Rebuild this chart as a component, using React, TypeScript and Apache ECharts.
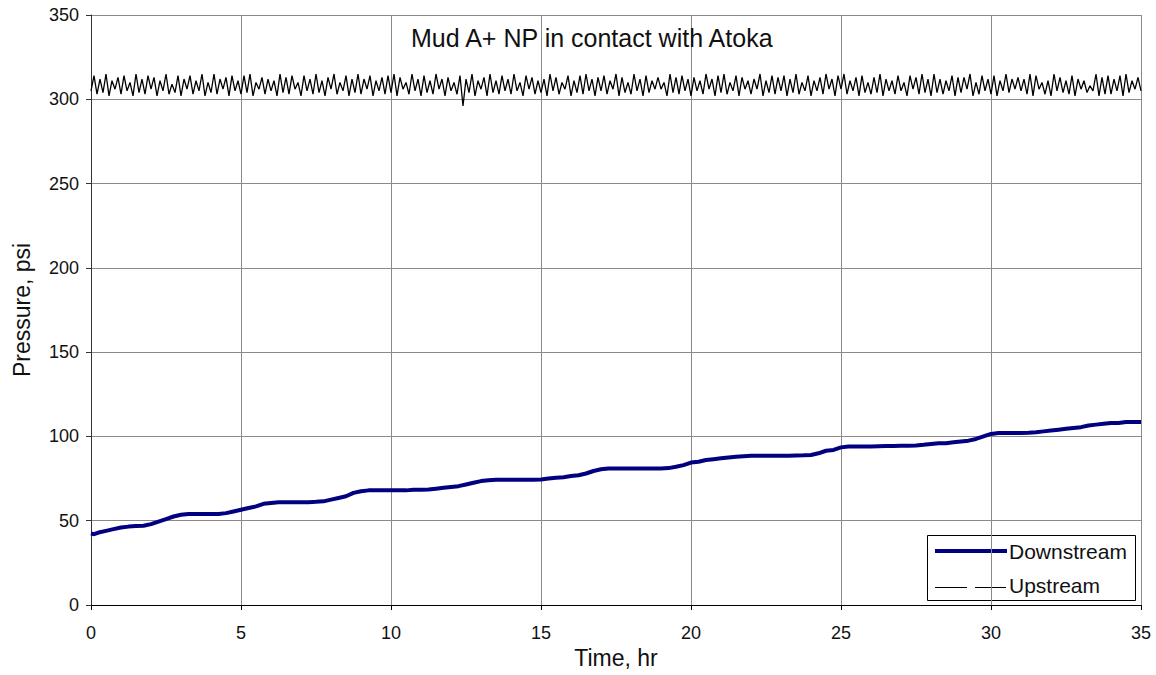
import React, { useEffect, useRef } from "react";
import * as echarts from "echarts";

const TITLE = "Mud A+ NP in contact with Atoka";
const X_NAME = "Time, hr";
const Y_NAME = "Pressure, psi";
const SERIES_NAMES = ["Downstream", "Upstream"];

// Downstream pressure [time hr, psi]
const downstream: [number, number][] = [
  [0, 42.5], [0.1, 42], [0.25, 43], [0.5, 44], [0.75, 45], [1.0, 46], [1.25, 46.5], [1.5, 46.8], [1.75, 47],
  [2.0, 48], [2.25, 49.5], [2.5, 51], [2.75, 52.5], [3.0, 53.5], [3.25, 54], [3.5, 54], [3.75, 54], [4.0, 54],
  [4.25, 54], [4.5, 54.5], [4.75, 55.5], [5.0, 56.5], [5.25, 57.5], [5.5, 58.5], [5.75, 60], [6.0, 60.5],
  [6.25, 61], [6.5, 61], [6.75, 61], [7.0, 61], [7.25, 61], [7.5, 61.2], [7.75, 61.5], [8.0, 62.5], [8.25, 63.5],
  [8.5, 64.5], [8.75, 66.5], [9.0, 67.5], [9.25, 68], [9.5, 68], [9.75, 68], [10.0, 68], [10.25, 68], [10.5, 68],
  [10.75, 68.3], [11.0, 68.3], [11.25, 68.5], [11.5, 69], [11.75, 69.5], [12.0, 70], [12.25, 70.5], [12.5, 71.5],
  [12.75, 72.5], [13.0, 73.5], [13.25, 74], [13.5, 74.3], [13.75, 74.3], [14.0, 74.3], [14.25, 74.3], [14.5, 74.3],
  [14.75, 74.3], [15.0, 74.5], [15.25, 75], [15.5, 75.5], [15.75, 75.8], [16.0, 76.5], [16.25, 77], [16.5, 78],
  [16.75, 79.5], [17.0, 80.5], [17.25, 81], [17.5, 81], [17.75, 81], [18.0, 81], [18.25, 81], [18.5, 81], [18.75, 81],
  [19.0, 81], [19.25, 81.2], [19.5, 82], [19.75, 83], [20.0, 84.5], [20.25, 85], [20.5, 86], [20.75, 86.5],
  [21.0, 87], [21.25, 87.5], [21.5, 88], [21.75, 88.3], [22.0, 88.5], [22.25, 88.5], [22.5, 88.5], [22.75, 88.5],
  [23.0, 88.5], [23.25, 88.6], [23.5, 88.7], [23.75, 88.8], [24.0, 89], [24.25, 90], [24.5, 91.5], [24.75, 92],
  [25.0, 93.5], [25.25, 94], [25.5, 94], [25.75, 94], [26.0, 94], [26.25, 94.2], [26.5, 94.3], [26.75, 94.3],
  [27.0, 94.4], [27.25, 94.5], [27.5, 94.6], [27.75, 95], [28.0, 95.5], [28.25, 96], [28.5, 96], [28.75, 96.5],
  [29.0, 97], [29.25, 97.5], [29.5, 98.5], [29.75, 100], [30.0, 101.5], [30.25, 102], [30.5, 102], [30.75, 102],
  [31.0, 102], [31.25, 102.2], [31.5, 102.5], [31.75, 103], [32.0, 103.5], [32.25, 104], [32.5, 104.5],
  [32.75, 105], [33.0, 105.5], [33.25, 106.5], [33.5, 107], [33.75, 107.5], [34.0, 108], [34.25, 108],
  [34.5, 108.5], [34.75, 108.5], [35.0, 108.5],
];

// Upstream pressure, one reading every 0.1 hr
const UP_STEP = 0.1;
const upstream: number[] = [
  305, 314, 303, 312, 304, 315, 302, 311, 306, 313,
  303, 314, 305, 310, 302, 315, 304, 312, 303, 314,
  306, 313, 302, 311, 305, 315, 303, 309, 304, 314,
  302, 312, 306, 314, 303, 311, 305, 315, 302, 310,
  304, 315, 303, 312, 306, 313, 302, 314, 305, 311,
  303, 314, 304, 315, 302, 310, 306, 313, 303, 312,
  305, 311, 302, 315, 304, 313, 303, 314, 306, 310,
  302, 314, 305, 312, 303, 315, 304, 311, 302, 313,
  306, 315, 303, 310, 305, 314, 302, 312, 304, 315,
  303, 312, 306, 314, 302, 311, 305, 313, 303, 314,
  304, 315, 302, 313, 306, 310, 303, 315, 305, 312,
  302, 314, 304, 311, 303, 315, 306, 312, 302, 313,
  305, 310, 303, 314, 296, 312, 304, 315, 302, 311,
  306, 313, 302, 315, 304, 311, 303, 314, 305, 312,
  303, 315, 305, 310, 302, 314, 306, 313, 303, 311,
  304, 312, 302, 315, 305, 313, 303, 310, 306, 314,
  302, 311, 304, 314, 303, 315, 305, 312, 302, 313,
  305, 314, 303, 311, 306, 315, 302, 313, 304, 310,
  303, 315, 305, 312, 302, 314, 304, 311, 306, 313,
  306, 310, 302, 315, 304, 313, 303, 314, 305, 312,
  302, 313, 305, 311, 303, 315, 306, 312, 302, 314,
  304, 315, 303, 310, 305, 314, 302, 313, 306, 311,
  303, 312, 306, 315, 302, 311, 304, 314, 303, 313,
  305, 314, 302, 312, 304, 315, 303, 310, 305, 314,
  302, 311, 305, 313, 303, 315, 306, 312, 302, 314,
  306, 315, 303, 311, 305, 313, 302, 314, 304, 310,
  303, 313, 304, 315, 302, 312, 305, 311, 303, 314,
  305, 310, 302, 314, 306, 313, 303, 315, 304, 312,
  302, 315, 304, 312, 303, 311, 305, 314, 302, 313,
  304, 313, 306, 315, 302, 310, 303, 314, 305, 312,
  303, 314, 302, 311, 305, 315, 304, 312, 306, 313,
  305, 312, 303, 315, 302, 314, 306, 310, 303, 311,
  302, 315, 305, 313, 304, 311, 303, 314, 302, 312,
  306, 311, 304, 308, 305, 315, 302, 313, 303, 314,
  303, 312, 305, 314, 302, 315, 304, 311, 306, 313,
  305,
];

const X_MIN = 0, X_MAX = 35, X_INT = 5;
const Y_MIN = 0, Y_MAX = 350, Y_INT = 50;

const FONT = "Liberation Sans, Arial, sans-serif";

export default function App() {
  const ref = useRef<HTMLDivElement>(null);
  useEffect(() => {
    if (!ref.current) return;
    const chart = echarts.init(ref.current, null, { renderer: "svg" });
    const upData = upstream.map((v, i) => [+(i * UP_STEP).toFixed(2), v]);
    chart.setOption({
      animation: false,
      backgroundColor: "#ffffff",
      textStyle: { fontFamily: FONT },
      title: {
        text: TITLE,
        left: 406,
        top: 20,
        textStyle: { fontFamily: FONT, fontSize: 25, fontWeight: "normal", color: "#111" },
      },
      grid: { left: 91, top: 15, right: 15, bottom: 70, containLabel: false },
      xAxis: {
        type: "value",
        min: X_MIN,
        max: X_MAX,
        interval: X_INT,
        name: X_NAME,
        nameLocation: "middle",
        nameGap: 37,
        nameTextStyle: { fontFamily: FONT, fontSize: 23, color: "#111" },
        axisLine: { show: true, lineStyle: { color: "#000", width: 1 } },
        axisTick: { show: true, length: 5, lineStyle: { color: "#000" } },
        axisLabel: { fontFamily: FONT, fontSize: 18, color: "#111", margin: 19 },
        splitLine: { show: true, lineStyle: { color: "#8a8a8a", width: 1 } },
      },
      yAxis: {
        type: "value",
        min: Y_MIN,
        max: Y_MAX,
        interval: Y_INT,
        name: Y_NAME,
        nameLocation: "middle",
        nameGap: 58,
        nameTextStyle: { fontFamily: FONT, fontSize: 23, color: "#111" },
        axisLine: { show: true, lineStyle: { color: "#333", width: 1 } },
        axisTick: { show: true, length: 5, lineStyle: { color: "#333" } },
        axisLabel: { fontFamily: FONT, fontSize: 18, color: "#111", margin: 12 },
        splitLine: { show: true, lineStyle: { color: "#8a8a8a", width: 1 } },
      },
      series: [
        {
          name: SERIES_NAMES[0],
          type: "line",
          data: downstream,
          showSymbol: false,
          symbol: "none",
          lineStyle: { color: "#000080", width: 4 },
          z: 3,
        },
        {
          name: SERIES_NAMES[1],
          type: "line",
          data: upData,
          showSymbol: false,
          symbol: "none",
          lineStyle: { color: "#000", width: 1.3 },
          z: 2,
        },
      ],
      graphic: [
        {
          type: "group",
          z: 100,
          children: [
            {
              type: "rect",
              shape: { x: 927.5, y: 535.5, width: 208, height: 65 },
              style: { fill: "#fff", stroke: "#000", lineWidth: 1 },
            },
            {
              type: "line",
              shape: { x1: 935, y1: 551, x2: 1007, y2: 551 },
              style: { stroke: "#000080", lineWidth: 4 },
            },
            {
              type: "text",
              x: 1009,
              y: 551,
              style: { text: SERIES_NAMES[0], fontFamily: FONT, fontSize: 21, fill: "#111", verticalAlign: "middle" },
            },
            {
              type: "line",
              shape: { x1: 935, y1: 587.5, x2: 967, y2: 587.5 },
              style: { stroke: "#000", lineWidth: 1 },
            },
            {
              type: "line",
              shape: { x1: 975, y1: 587.5, x2: 1006, y2: 587.5 },
              style: { stroke: "#000", lineWidth: 1 },
            },
            {
              type: "text",
              x: 1009,
              y: 585,
              style: { text: SERIES_NAMES[1], fontFamily: FONT, fontSize: 21, fill: "#111", verticalAlign: "middle" },
            },
          ],
        },
      ],
    });
    return () => chart.dispose();
  }, []);
  return (
    <div
      ref={ref}
      style={{ position: "fixed", left: 0, top: 0, width: 1156, height: 675, background: "#fff" }}
    />
  );
}
